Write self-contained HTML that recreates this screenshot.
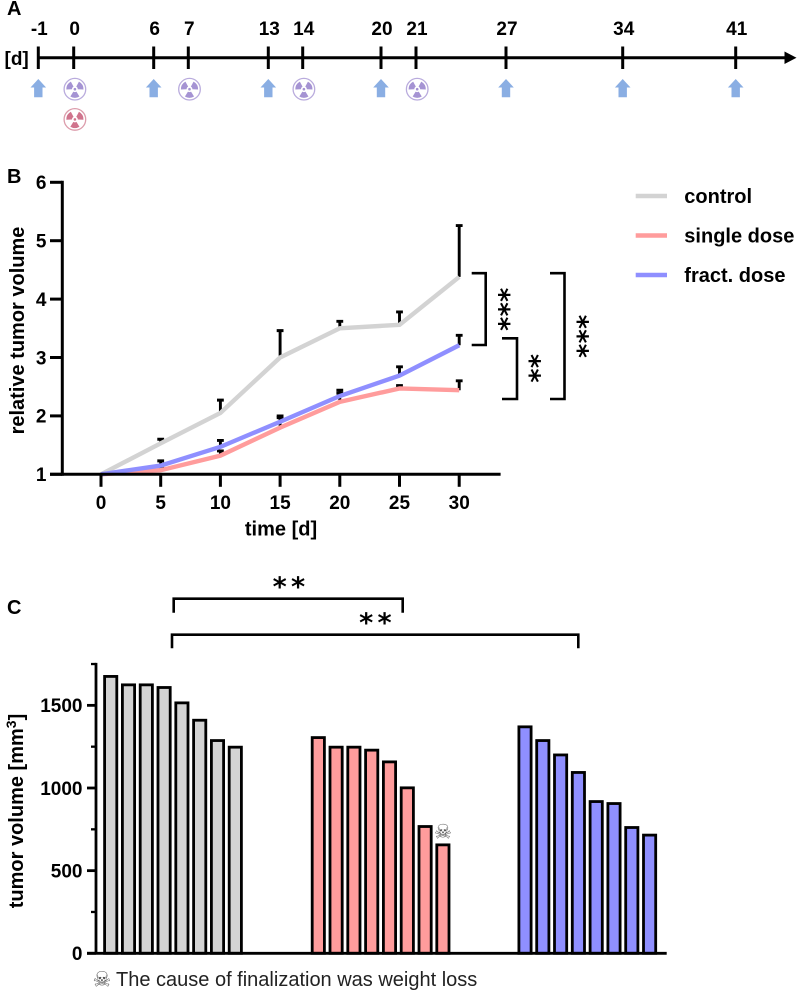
<!DOCTYPE html>
<html lang="en">
<head>
<meta charset="utf-8">
<title>Tumor volume chart</title>
<style>
html,body{margin:0;padding:0;background:#fff;}
svg{display:block;font-family:"Liberation Sans",Arial,sans-serif;color:#000;filter:blur(0.35px);}
text{fill:#000;}
.b{font-weight:700;font-size:19px;}
.t{font-weight:700;font-size:20px;}
.panel{font-weight:700;font-size:20px;}
.star{font-family:"DejaVu Sans",sans-serif;font-weight:700;font-size:27px;}
</style>
</head>
<body>
<svg id="fig" xmlns="http://www.w3.org/2000/svg" width="797" height="990" viewBox="0 0 797 990">
<rect x="0" y="0" width="797" height="990" fill="#fff"/>
<text class="panel" x="7" y="15">A</text>
<text class="panel" x="7" y="183">B</text>
<text class="panel" x="7" y="614">C</text>
<text class="b" x="4.5" y="65">[d]</text>
<line x1="37" y1="57.7" x2="786" y2="57.7" stroke="#000" stroke-width="3"/>
<path d="M784.5 51.5L796.5 57.7L784.5 64Z" fill="#000"/>
<text class="t" transform="translate(24,330.5) rotate(-90)" text-anchor="middle">relative tumor volume</text>
<text class="t" x="281" y="535.5" text-anchor="middle">time [d]</text>
<text class="t" transform="translate(23,811) rotate(-90)" text-anchor="middle">tumor volume [mm<tspan dy="-7" font-size="14">3</tspan><tspan dy="7">]</tspan></text>
<text x="92.5" y="986.5" style="font-family:'DejaVu Sans',sans-serif;font-size:21px;fill:#555">☠</text>
<text x="116" y="986" font-size="20" style="fill:#222">The cause of finalization was weight loss</text>
<text x="443" y="838.5" text-anchor="middle" style="font-family:'DejaVu Sans',sans-serif;font-size:20px;fill:#555">☠</text>
<g id="layer-a"></g>
<g id="layer-b"></g>
<g id="layer-c"></g>
</svg>
<script>
// Panel A: treatment schedule
const timelineDays = [-1, 0, 6, 7, 13, 14, 20, 21, 27, 34, 41];
const injectionDays = [-1, 6, 13, 20, 27, 34, 41];
const fractionDays = [0, 7, 14, 21];
const singleDoseDays = [0];

// Panel B: relative tumor volume
const timePoints = [0, 5, 10, 15, 20, 25, 30];
const controlMeans = [1, 1.53, 2.05, 3.0, 3.5, 3.56, 4.38];
const controlUpper = [1, 1.6, 2.27, 3.46, 3.62, 3.78, 5.26];
const singleMeans = [1, 1.07, 1.32, 1.8, 2.24, 2.47, 2.44];
const singleUpper = [1, 1.13, 1.4, 1.97, 2.39, 2.52, 2.6];
const fractMeans = [1, 1.15, 1.47, 1.9, 2.34, 2.69, 3.21];
const fractUpper = [1, 1.23, 1.58, 2.0, 2.44, 2.84, 3.38];
const yTicksB = [1, 2, 3, 4, 5, 6];
const xTicksB = [0, 5, 10, 15, 20, 25, 30];
const legendLabels = ['control', 'single dose', 'fract. dose'];

// Panel C: individual tumor volumes
const controlVolumes = [1675, 1624, 1624, 1608, 1515, 1410, 1287, 1247];
const singleVolumes = [1305, 1247, 1247, 1229, 1158, 1001, 767, 656];
const fractVolumes = [1370, 1287, 1200, 1094, 918, 906, 761, 715];
const yMajorTicksC = [0, 500, 1000, 1500];
const yMinorTicksC = [250, 750, 1250, 1750];

const NS = 'http://www.w3.org/2000/svg';
function make(parent, tag, attrs, txt) {
  const n = document.createElementNS(NS, tag);
  for (const k in attrs) n.setAttribute(k, attrs[k]);
  if (txt !== undefined) n.textContent = txt;
  parent.appendChild(n);
  return n;
}

/* ---------- Panel A ---------- */
const layerA = document.getElementById('layer-a');
function dayX(d) {
  const days = [-1, 0, 6, 7, 13, 14, 20, 21, 27, 34, 41];
  const px = [38.3, 73.7, 153.7, 188.3, 268.3, 302.7, 381, 416, 506, 622.7, 735.7];
  for (let i = 0; i < days.length - 1; i++) {
    if (d <= days[i + 1]) {
      return px[i] + (d - days[i]) * (px[i + 1] - px[i]) / (days[i + 1] - days[i]);
    }
  }
  return px[px.length - 1];
}
timelineDays.forEach(function (d) {
  const x = dayX(d);
  const t = make(layerA, 'line', {x1: x, x2: x, y1: 46.5, y2: 69, stroke: '#000', 'stroke-width': 3});
  
  
  const l = make(layerA, 'text', {x: x + 1, y: 34.8, 'text-anchor': 'middle', 'class': 'b'}, String(d));
  
  
});
injectionDays.forEach(function (d) {
  const x = dayX(d);
  const a = make(layerA, 'path', {
    d: 'M' + x + ' 79L' + (x + 7.8) + ' 87.5H' + (x + 4.2) + 'V97.2H' + (x - 4.2) + 'V87.5H' + (x - 7.8) + 'Z',
    fill: '#8aaee3'
  });
  
  
});
function wedge(cx, cy, mid) {
  const r0 = 2.9, r1 = 8.6, h = 32 * Math.PI / 180, m = mid * Math.PI / 180;
  const p = function (r, a) { return (cx + r * Math.cos(a)).toFixed(2) + ' ' + (cy + r * Math.sin(a)).toFixed(2); };
  return 'M' + p(r0, m - h) + 'L' + p(r1, m - h) + 'A' + r1 + ' ' + r1 + ' 0 0 1 ' + p(r1, m + h) + 'L' + p(r0, m + h) + 'A' + r0 + ' ' + r0 + ' 0 0 0 ' + p(r0, m - h) + 'Z';
}
function radiation(cx, cy, ring, fill, name) {
  const g = make(layerA, 'g', {});
  
  
  make(g, 'circle', {cx: cx, cy: cy, r: 10.8, fill: '#fff', stroke: ring, 'stroke-width': 1.3});
  make(g, 'circle', {cx: cx, cy: cy, r: 1.3, fill: fill});
  [-150, -30, 90].forEach(function (a) {
    make(g, 'path', {d: wedge(cx, cy, a), fill: fill});
  });
}
fractionDays.forEach(function (d) {
  radiation(dayX(d) + 1.2, 89.2, '#b9abdd', '#a593d3', 'fractionated-dose-icon');
});
singleDoseDays.forEach(function (d) {
  radiation(dayX(d) + 1.2, 119.4, '#dc9cab', '#d0748d', 'single-dose-icon');
});

/* ---------- Panel B ---------- */
const layerB = document.getElementById('layer-b');
const xB = function (v) { return 101 + v * 11.94; };
const yB = function (v) { return 474.3 - (v - 1) * 58.4; };
const colors = {control: '#d3d3d3', single: '#ff9c9c', fract: '#8f8fff'};

const seriesB = [
  {key: 'control', means: controlMeans, upper: controlUpper},
  {key: 'single', means: singleMeans, upper: singleUpper},
  {key: 'fract', means: fractMeans, upper: fractUpper}
];
seriesB.forEach(function (s) {
  s.upper.forEach(function (u, i) {
    if (i === 0) return;
    const x = xB(timePoints[i]);
    const e = make(layerB, 'path', {
      d: 'M' + x + ' ' + yB(s.means[i]) + 'V' + yB(u) + 'M' + (x - 3.4) + ' ' + yB(u) + 'H' + (x + 3.4),
      fill: 'none', stroke: '#000', 'stroke-width': 2.9
    });
    
    
  });
});
seriesB.forEach(function (s) {
  const pts = s.means.map(function (m, i) { return xB(timePoints[i]).toFixed(2) + ',' + yB(m).toFixed(2); }).join(' ');
  const line = make(layerB, 'polyline', {points: pts, fill: 'none', stroke: colors[s.key], 'stroke-width': 4.4, 'stroke-linejoin': 'miter'});
  
  
});

const axisYB = make(layerB, 'line', {x1: 62.3, x2: 62.3, y1: yB(6) - 1.5, y2: yB(1) + 1.5, stroke: '#000', 'stroke-width': 3});


const axisXB = make(layerB, 'line', {x1: 50, x2: 500.6, y1: yB(1), y2: yB(1), stroke: '#000', 'stroke-width': 3});


yTicksB.forEach(function (v) {
  const t = make(layerB, 'line', {x1: 50, x2: 62, y1: yB(v), y2: yB(v), stroke: '#000', 'stroke-width': 3});
  
  
  const l = make(layerB, 'text', {x: 46.5, y: yB(v) + 6.8, 'text-anchor': 'end', 'class': 'b'}, String(v));
  
  
});
xTicksB.forEach(function (v) {
  const t = make(layerB, 'line', {x1: xB(v), x2: xB(v), y1: yB(1), y2: 486.8, stroke: '#000', 'stroke-width': 3});
  
  
  const l = make(layerB, 'text', {x: xB(v), y: 509, 'text-anchor': 'middle', 'class': 'b'}, String(v));
  
  
});

const legendKeys = ['control', 'single', 'fract'];
legendLabels.forEach(function (label, i) {
  const y = 196 + i * 39.5;
  const sw = make(layerB, 'line', {x1: 635.7, x2: 667, y1: y, y2: y, stroke: colors[legendKeys[i]], 'stroke-width': 4.6});
  
  
  const l = make(layerB, 'text', {x: 684.3, y: y + 6.8, 'class': 't'}, label);
  
  
});

function vStars(cx, cy, s) {
  const t = make(layerB, 'text', {
    x: cx, y: cy + 13.8, 'text-anchor': 'middle', 'class': 'star',
    transform: 'rotate(90 ' + cx + ' ' + cy + ')', style: 'letter-spacing:.4px'
  }, s);
  
  
}
function rBracket(x1, x2, y1, y2) {
  const b = make(layerB, 'path', {d: 'M' + x1 + ' ' + y1 + 'H' + x2 + 'V' + y2 + 'H' + x1, fill: 'none', stroke: '#000', 'stroke-width': 2.6});
  
  
}
rBracket(471.7, 485.7, 273.2, 345);
rBracket(502, 517, 338.3, 399);
rBracket(550, 564.5, 273.2, 399);
vStars(504.3, 309.5, '***');
vStars(535, 368.5, '**');
vStars(582.7, 336.5, '***');

/* ---------- Panel C ---------- */
const layerC = document.getElementById('layer-c');
const yC = function (v) { return 953.3 - v * 0.1653; };
const barX = function (start, i) { return start + i * 17.8; };
const groupsC = [
  {key: 'control', start: 110.7, values: controlVolumes},
  {key: 'single', start: 318.3, values: singleVolumes},
  {key: 'fract', start: 525, values: fractVolumes}
];
const fillsC = {control: '#d3d3d3', single: '#ff9c9c', fract: '#8f8fff'};
groupsC.forEach(function (g) {
  g.values.forEach(function (v, i) {
    const cx = barX(g.start, i);
    const r = make(layerC, 'rect', {x: cx - 6.1, y: yC(v), width: 12.2, height: yC(0) - yC(v), fill: fillsC[g.key], stroke: '#000', 'stroke-width': 2.8});
    
    
  });
});
const axisYC = make(layerC, 'line', {x1: 96, x2: 96, y1: yC(1750) - 1.2, y2: yC(0), stroke: '#000', 'stroke-width': 2.8});


const axisXC = make(layerC, 'line', {x1: 87, x2: 666.7, y1: yC(0), y2: yC(0), stroke: '#000', 'stroke-width': 2.8});


yMajorTicksC.forEach(function (v) {
  const t = make(layerC, 'line', {x1: 87, x2: 96, y1: yC(v), y2: yC(v), stroke: '#000', 'stroke-width': 2.8});
  
  
  const l = make(layerC, 'text', {x: 82.5, y: yC(v) + 6.8, 'text-anchor': 'end', 'class': 'b'}, String(v));
  
  
});
yMinorTicksC.forEach(function (v) {
  const t = make(layerC, 'line', {x1: 91, x2: 96, y1: yC(v), y2: yC(v), stroke: '#000', 'stroke-width': 2.3});
  
  
});
function topBracket(x1, x2, y, drop) {
  const b = make(layerC, 'path', {d: 'M' + x1 + ' ' + (y + drop) + 'V' + y + 'H' + x2 + 'V' + (y + drop), fill: 'none', stroke: '#000', 'stroke-width': 2.6});
  
  
}
function hStars(cx, cy, s) {
  const t = make(layerC, 'text', {x: cx, y: cy + 13.8, 'text-anchor': 'middle', 'class': 'star', style: 'letter-spacing:4.2px'}, s);
  
  
}
topBracket(173.7, 402.7, 598.7, 14);
topBracket(172, 578.3, 634.7, 13.6);
hStars(291, 582, '**');
hStars(377.5, 618, '**');
</script>
</body>
</html>
